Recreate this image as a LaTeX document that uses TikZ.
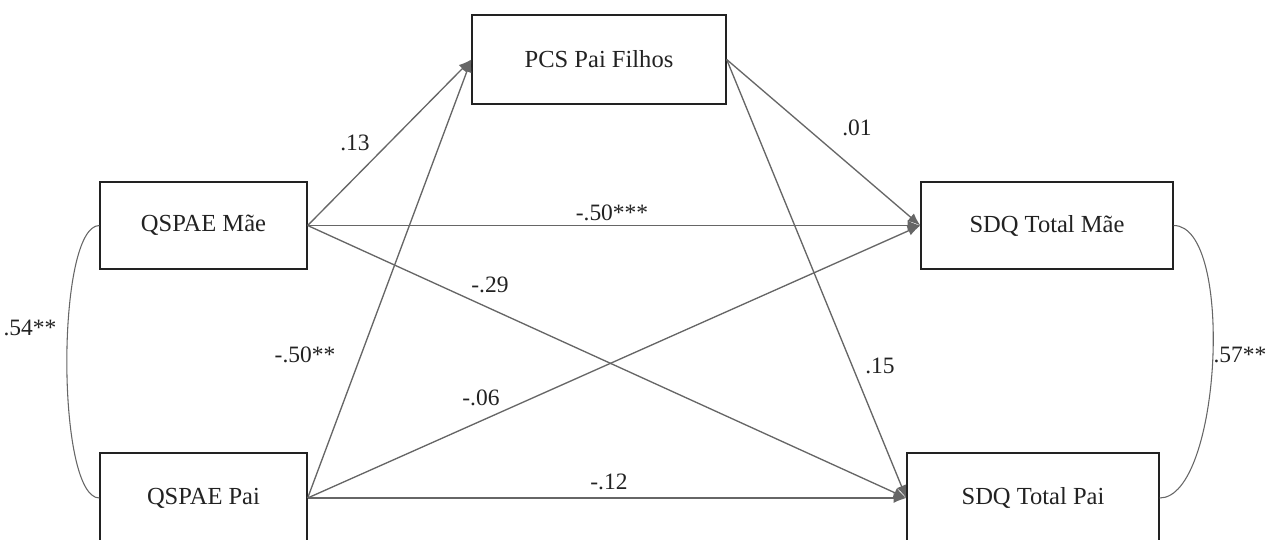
\documentclass[tikz,border=0pt]{standalone}
\usepackage{fontspec}
\setmainfont{Liberation Serif}
\usetikzlibrary{arrows.meta}
\definecolor{linegray}{HTML}{666666}
\definecolor{txt}{HTML}{222222}
\begin{document}
\begin{tikzpicture}[x=0.75pt,y=-0.75pt,
  box/.style={draw=txt,line width=1pt,fill=white,inner sep=0pt,minimum height=65.25pt,font=\fontsize{18.4}{20}\selectfont,text=txt},
  path/.style={draw=linegray,line width=1pt,-{Latex[length=9.5pt,width=7.5pt]}},
  cov/.style={draw=linegray,line width=0.8pt},
  lab/.style={font=\fontsize{17.6}{20}\selectfont,text=txt,inner sep=0pt}]
\useasboundingbox (0,0) rectangle (1270,539);
\clip (0,0) rectangle (1270,539);
\node[box,minimum width=155.25pt] (qm) at (203.5,225.5) {QSPAE Mãe};
\node[box,minimum width=155.25pt,minimum height=67.5pt] (qp) at (203.5,498) {QSPAE Pai};
\node[box,minimum width=190.5pt,minimum height=66.75pt] (pcs) at (599,59.5) {PCS Pai Filhos};
\node[box,minimum width=189pt] (sm) at (1047,225.5) {SDQ Total Mãe};
\node[box,minimum width=189pt,minimum height=67.5pt] (sp) at (1033,498) {SDQ Total Pai};
\draw[path] (qm.east) -- (pcs.west);
\draw[path] (qm.east) -- (sm.west);
\draw[path] (qm.east) -- (sp.west);
\draw[path] (qp.east) -- (pcs.west);
\draw[path] (qp.east) -- (sm.west);
\draw[path] (qp.east) -- (sp.west);
\draw[path] (pcs.east) -- (sm.west);
\draw[path] (pcs.east) -- (sp.west);
\draw[cov] (qm.west) .. controls (56,225.5) and (56,498) .. (qp.west);
\draw[cov] (sm.east) .. controls (1235,225.5) and (1221,498) .. (sp.east);
\node[lab] (l1) at (355,143) {.13};
\node[lab] (l2) at (857,128) {.01};
\node[lab] (l3) at (612,213) {-.50***};
\node[lab] (l4) at (490,285) {-.29};
\node[lab] (l5) at (305,355) {-.50**};
\node[lab] (l6) at (880,366) {.15};
\node[lab] (l7) at (481,398) {-.06};
\node[lab] (l8) at (609,482) {-.12};
\node[lab] (l9) at (30,328) {.54**};
\node[lab] (l10) at (1240,355) {.57**};
\end{tikzpicture}
\end{document}
